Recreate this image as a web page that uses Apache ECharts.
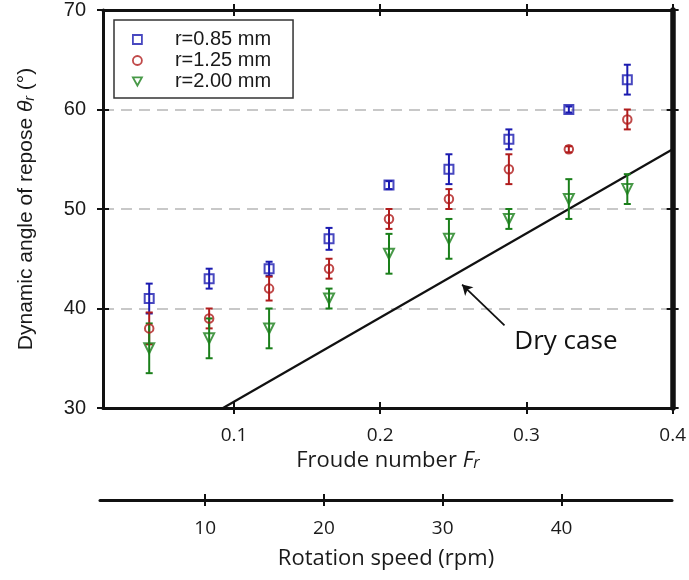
<!DOCTYPE html>
<html>
<head>
<meta charset="utf-8">
<script src="https://cdn.jsdelivr.net/npm/echarts@6/dist/echarts.min.js"></script>
<style>
  html, body { margin: 0; padding: 0; background: #fff; }
  #chart { width: 689px; height: 580px; }
</style>
</head>
<body>
<div id="chart"></div>
<script>
// Froude number of each measurement (same for all three particle sizes)
const froude = [0.042, 0.083, 0.124, 0.165, 0.206, 0.247, 0.288, 0.329, 0.369];

// dynamic angle of repose (deg) and half error bar per particle radius
const angle085 = [41.0, 43.0, 44.0, 47.0, 52.4, 54.0, 57.0, 60.0, 63.0];
const err085   = [1.5, 1.0, 0.7, 1.1, 0.4, 1.5, 1.0, 0.3, 1.5];
const angle125 = [38.0, 39.0, 42.0, 44.0, 49.0, 51.0, 54.0, 56.0, 59.0];
const err125   = [1.6, 1.0, 1.2, 1.0, 1.0, 1.0, 1.5, 0.3, 1.0];
const angle200 = [36.0, 37.0, 38.0, 41.0, 45.5, 47.0, 49.0, 51.0, 52.0];
const err200   = [2.5, 2.0, 2.0, 1.0, 2.0, 2.0, 1.0, 2.0, 1.5];

// dry case reference line
const dryFroude = [0.0925, 0.4];
const dryAngle  = [30, 56];
const dryArrowTip  = [0.256, 42.4];
const dryArrowTail = [0.285, 38.3];
const dryLabelAt   = [0.327, 36.7];

// axes
const froudeRange = [0.0104, 0.4];
const froudeTicks = [0.1, 0.2, 0.3, 0.4];
const rpmRange = [1.15, 49.3];
const rpmTicks = [10, 20, 30, 40];
const angleRange = [30, 70];
const angleStep = 10;

const seriesNames = ['r=0.85 mm', 'r=1.25 mm', 'r=2.00 mm'];
const colors = ['#1a1ab0', '#b01c1c', '#1a7f1a'];
const symbols = ['rect', 'circle', 'triangle'];
const legendIcons = ['rect', 'circle', 'path://M0,0 L10,0 L5,9 Z'];
const symbolSizes = [9, 8.5, 10];
const symbolRotates = [0, 0, 180];
const angles = [angle085, angle125, angle200];
const errs = [err085, err125, err200];

const chart = echarts.init(document.getElementById('chart'), null, { renderer: 'canvas' });

const black = '#111';
const textColor = '#1a1a1a';
const sansUI = '"Open Sans", "Noto Sans", sans-serif';
const sansArial = '"Liberation Sans", Arial, sans-serif';

const tickOut = (vals, len) => ({ show: true, inside: false, length: len, customValues: vals, lineStyle: { color: black, width: 2 } });
const tickIn = (vals, len) => ({ show: true, inside: true, length: len, customValues: vals, lineStyle: { color: black, width: 2 } });

const frBase = { type: 'value', gridIndex: 0, min: froudeRange[0], max: froudeRange[1], splitLine: { show: false } };
const angBase = { type: 'value', gridIndex: 0, min: angleRange[0], max: angleRange[1], interval: angleStep, splitLine: { show: false } };
const rpmBase = { type: 'value', gridIndex: 1, min: rpmRange[0], max: rpmRange[1], splitLine: { show: false } };

const errorSeries = angles.map((vals, k) => ({
  type: 'custom',
  xAxisIndex: 0,
  yAxisIndex: 0,
  silent: true,
  z: 3,
  data: froude.map((f, i) => [f, vals[i] - errs[k][i], vals[i] + errs[k][i]]),
  renderItem: (params, api) => {
    const lo = api.coord([api.value(0), api.value(1)]);
    const hi = api.coord([api.value(0), api.value(2)]);
    const w = 3.5;
    const style = { stroke: colors[k], lineWidth: 2 };
    return {
      type: 'group',
      children: [
        { type: 'line', shape: { x1: lo[0], y1: lo[1], x2: hi[0], y2: hi[1] }, style },
        { type: 'line', shape: { x1: lo[0] - w, y1: lo[1], x2: lo[0] + w, y2: lo[1] }, style },
        { type: 'line', shape: { x1: hi[0] - w, y1: hi[1], x2: hi[0] + w, y2: hi[1] }, style }
      ]
    };
  }
}));

const scatterSeries = angles.map((vals, k) => ({
  name: seriesNames[k],
  type: 'scatter',
  xAxisIndex: 0,
  yAxisIndex: 0,
  z: 4,
  symbol: symbols[k],
  symbolSize: symbolSizes[k],
  symbolRotate: symbolRotates[k],
  itemStyle: { color: 'rgba(255,255,255,0)', borderColor: colors[k], borderWidth: 2 },
  data: froude.map((f, i) => [f, vals[i]])
}));

const option = {
  animation: false,
  backgroundColor: '#fff',
  grid: [
    { left: 103, right: 16, top: 9, bottom: 172 },
    { left: 100, right: 17, top: 500, height: 0 }
  ],
  legend: {
    data: seriesNames.map((n, k) => ({
      name: n,
      icon: legendIcons[k],
      itemStyle: { color: 'rgba(255,255,255,0)', borderColor: colors[k], borderWidth: 1.8 }
    })),
    orient: 'vertical',
    left: 114,
    top: 20,
    padding: [9, 22, 6, 18],
    itemGap: 0,
    itemWidth: 9,
    itemHeight: 9,
    borderColor: '#333',
    borderWidth: 1.5,
    backgroundColor: '#fff',
    textStyle: { fontSize: 20, fontFamily: sansArial, color: textColor, lineHeight: 21, padding: [0, 0, 0, 28] }
  },
  xAxis: [
    Object.assign({}, frBase, {
      position: 'bottom',
      axisLine: { show: true, onZero: false, lineStyle: { color: black, width: 3 } },
      axisTick: tickOut(froudeTicks, 6),
      axisLabel: { customValues: froudeTicks, fontSize: 19, fontFamily: sansUI, color: textColor, margin: 18 },
      name: '{a|Froude number }{i|F}{s|r}',
      nameLocation: 'middle',
      nameGap: 42,
      nameTextStyle: {
        rich: {
          a: { fontSize: 22, fontFamily: sansUI, color: textColor },
          i: { fontSize: 22, fontFamily: sansUI, fontStyle: 'italic', color: textColor },
          s: { fontSize: 16, fontFamily: sansUI, fontStyle: 'italic', color: textColor, padding: [5, 0, 0, 0] }
        }
      }
    }),
    Object.assign({}, frBase, { position: 'bottom', axisLine: { show: false, onZero: false }, axisTick: tickIn(froudeTicks, 6), axisLabel: { show: false } }),
    Object.assign({}, frBase, { position: 'top', axisLine: { show: true, onZero: false, lineStyle: { color: black, width: 3 } }, axisTick: tickOut(froudeTicks, 6), axisLabel: { show: false } }),
    Object.assign({}, frBase, { position: 'top', axisLine: { show: false, onZero: false }, axisTick: tickIn(froudeTicks, 6), axisLabel: { show: false } }),
    Object.assign({}, rpmBase, {
      position: 'bottom',
      axisLine: { show: true, onZero: false, lineStyle: { color: black, width: 3 } },
      axisTick: tickOut(rpmTicks, 6),
      axisLabel: { customValues: rpmTicks, fontSize: 19, fontFamily: sansUI, color: textColor, margin: 19 },
      name: 'Rotation speed (rpm)',
      nameLocation: 'middle',
      nameGap: 48,
      nameTextStyle: { fontSize: 22, fontFamily: sansUI, color: textColor }
    }),
    Object.assign({}, rpmBase, { position: 'bottom', axisLine: { show: false, onZero: false }, axisTick: tickIn(rpmTicks, 6), axisLabel: { show: false } })
  ],
  yAxis: [
    Object.assign({}, angBase, {
      position: 'left',
      axisLine: { show: true, onZero: false, lineStyle: { color: black, width: 3 } },
      axisTick: { show: true, inside: false, length: 6, lineStyle: { color: black, width: 2 } },
      axisLabel: { fontSize: 20, fontFamily: sansArial, color: textColor, margin: 17 },
      splitLine: { show: true, lineStyle: { color: '#c8c8c8', width: 2, type: [11, 7] } },
      name: '{a|Dynamic angle of repose }{i|θ}{s|r}{a| (°)}',
      nameLocation: 'middle',
      nameRotate: 90,
      nameGap: 66,
      nameTextStyle: {
        rich: {
          a: { fontSize: 21, fontFamily: sansArial, color: textColor },
          i: { fontSize: 21, fontFamily: sansArial, fontStyle: 'italic', color: textColor },
          s: { fontSize: 14, fontFamily: sansArial, fontStyle: 'italic', color: textColor, padding: [8, 0, 0, 0] }
        }
      }
    }),
    Object.assign({}, angBase, { position: 'left', axisLine: { show: false, onZero: false }, axisTick: { show: true, inside: true, length: 6, lineStyle: { color: black, width: 2 } }, axisLabel: { show: false } }),
    Object.assign({}, angBase, { position: 'right', axisLine: { show: true, onZero: false, lineStyle: { color: black, width: 5.5 } }, axisTick: { show: true, inside: false, length: 6, lineStyle: { color: black, width: 2 } }, axisLabel: { show: false } }),
    Object.assign({}, angBase, { position: 'right', axisLine: { show: false, onZero: false }, axisTick: { show: true, inside: true, length: 6, lineStyle: { color: black, width: 2 } }, axisLabel: { show: false } }),
    { type: 'value', gridIndex: 1, show: false, min: 0, max: 1 }
  ],
  series: [
    {
      name: 'Dry case',
      type: 'line',
      xAxisIndex: 0,
      yAxisIndex: 0,
      z: 2,
      silent: true,
      showSymbol: false,
      symbol: 'none',
      lineStyle: { color: black, width: 2.2 },
      data: dryFroude.map((f, i) => [f, dryAngle[i]]),
      markLine: {
        silent: true,
        symbol: ['arrow', 'none'],
        symbolSize: [9, 10],
        label: { show: false },
        lineStyle: { color: black, width: 1.8, type: 'solid' },
        data: [[{ coord: dryArrowTip }, { coord: dryArrowTail }]]
      },
      markPoint: {
        silent: true,
        symbol: 'circle',
        symbolSize: 0,
        label: { show: true, position: 'inside', formatter: 'Dry case', fontSize: 26, fontFamily: sansUI, color: black },
        data: [{ coord: dryLabelAt }]
      }
    },
    ...errorSeries,
    ...scatterSeries
  ]
};

chart.setOption(option);
</script>
</body>
</html>
